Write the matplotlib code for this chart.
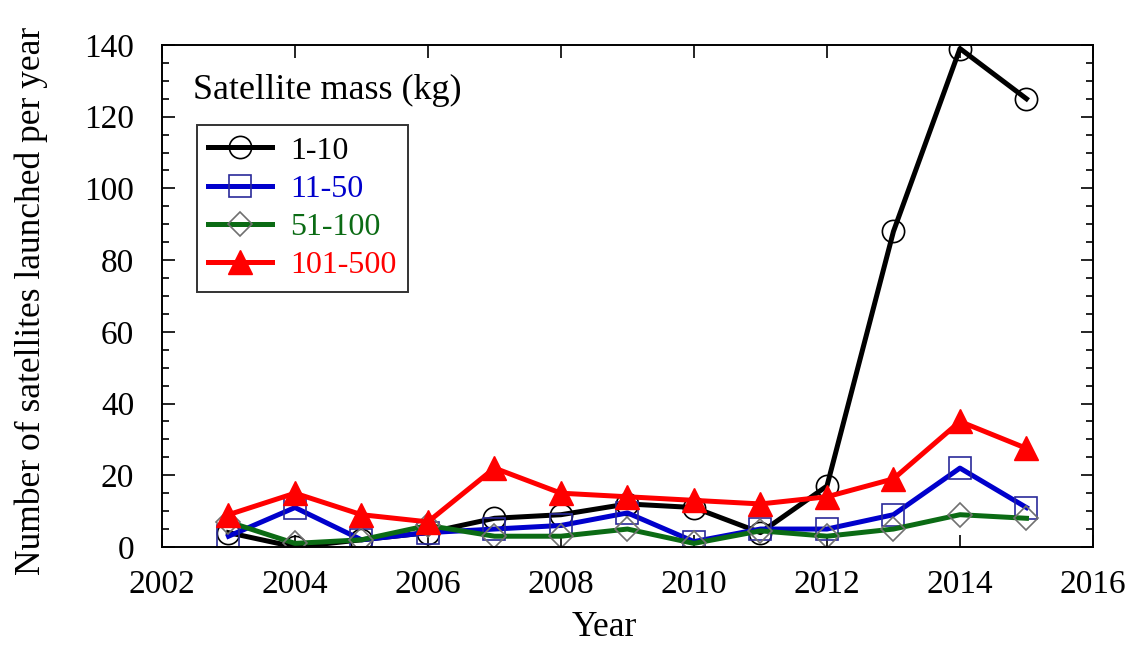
from matplotlib import pyplot as plt
from matplotlib.ticker import MultipleLocator
import numpy as np

plt.rcParams.update({
    "font.family": "serif",
    "font.serif": ["Liberation Serif", "DejaVu Serif"],
    "font.size": 24,
})

years = np.arange(2003, 2016)
mass_1_10 = [4, 0, 2, 4, 8, 9, 12, 11, 4, 17, 88, 139, 125]
mass_11_50 = [3, 11, 2, 4, 5, 6, 9.5, 1.5, 5, 5, 9, 22, 11]
mass_51_100 = [7, 1, 2, 6, 3, 3, 5, 1, 4.5, 3, 5, 9, 8]
mass_101_500 = [9, 15, 9, 7, 22, 15, 14, 13, 12, 14, 19, 35, 27.5]

labels = ["1-10", "11-50", "51-100", "101-500"]
colors = ["black", "#0000cc", "#0b6b14", "#ff0000"]


def main():
    fig = plt.figure(figsize=(11.36, 6.5), dpi=100)
    ax = fig.add_axes([0.1426, 0.1585, 0.8195, 0.7723])

    ax.plot(years, mass_1_10, color=colors[0], lw=3.6, marker="o", ms=16,
            mfc="none", mec="black", mew=1.2, label=labels[0])
    ax.plot(years, mass_11_50, color=colors[1], lw=3.6, marker="s", ms=16,
            mfc="none", mec="#2a2a9a", mew=1.2, label=labels[1])
    ax.plot(years, mass_51_100, color=colors[2], lw=3.6, marker="D", ms=12.5,
            mfc="none", mec="#707070", mew=1.2, label=labels[2])
    ax.plot(years, mass_101_500, color=colors[3], lw=3.6, marker="^", ms=17,
            mfc=colors[3], mec=colors[3], label=labels[3])

    ax.set_xlim(2002, 2016)
    ax.set_ylim(0, 140)
    ax.xaxis.set_major_locator(MultipleLocator(2))
    ax.yaxis.set_major_locator(MultipleLocator(20))
    ax.yaxis.set_minor_locator(MultipleLocator(5))
    ax.tick_params(direction="in", which="both", top=True, right=True,
                   labelsize=24)
    ax.tick_params(axis="x", pad=16)
    ax.tick_params(axis="y", pad=20)
    ax.tick_params(which="major", length=9, width=1.2)
    ax.tick_params(which="minor", length=5, width=1.2)
    for s in ax.spines.values():
        s.set_linewidth(1.4)

    ax.set_xlabel("Year", fontsize=25.5)
    ax.set_ylabel("Number of satellites launched per year", fontsize=25.5)
    ax.xaxis.set_label_coords(0.475, -0.128)
    ax.yaxis.set_label_coords(-0.122, 0.49)

    ax.text(0.033, 0.91, "Satellite mass (kg)", transform=ax.transAxes,
            fontsize=26, va="center", ha="left")
    leg = ax.legend(loc="upper left", bbox_to_anchor=(0.0376, 0.8406),
                    fontsize=23, frameon=True, fancybox=False,
                    edgecolor="black", handlelength=2.0, labelspacing=0.28,
                    borderpad=0.35, handletextpad=0.56, borderaxespad=0)
    leg.get_frame().set_linewidth(1.4)
    for text, c in zip(leg.get_texts(), colors):
        text.set_color(c)

    fig.savefig("out.png", dpi=100)


if __name__ == "__main__":
    main()
